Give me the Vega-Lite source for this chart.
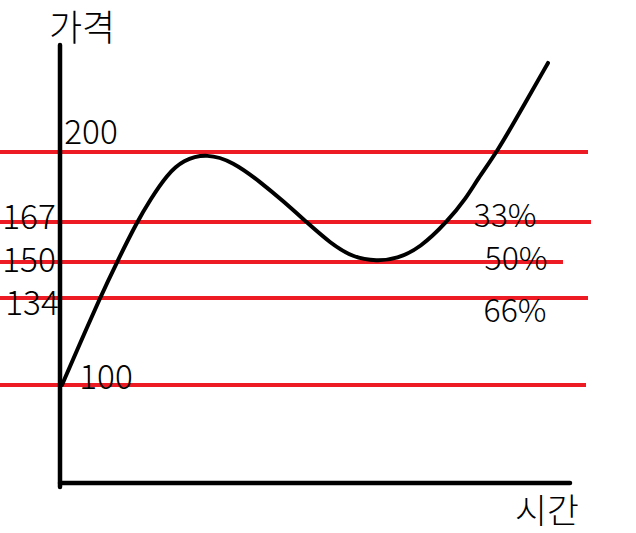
{
  "$schema": "https://vega.github.io/schema/vega-lite/v6.json",
  "autosize": {"type": "none"},
  "width": 636,
  "height": 533,
  "padding": 0,
  "background": "white",
  "config": {"view": {"stroke": null}},
  "datasets": {
    "levels": [
      {"level": 200, "start": -6, "end": 52.8},
      {"level": 169.8, "start": -6, "end": 53.1},
      {"level": 152.6, "start": -6, "end": 50.3},
      {"level": 137.1, "start": -6, "end": 52.8},
      {"level": 99.6, "start": -6, "end": 52.6}
    ],
    "axes": [
      {"t": 0, "t2": 0, "v": 55.6, "v2": 246.1},
      {"t": 0, "t2": 51, "v": 57.3, "v2": 57.3}
    ],
    "price": [
      {"t": 0.2, "v": 99.6},
      {"t": 2, "v": 117.5},
      {"t": 4, "v": 137.1},
      {"t": 5.7, "v": 152.6},
      {"t": 7.7, "v": 169.8},
      {"t": 9, "v": 179.3},
      {"t": 10.7, "v": 190.2},
      {"t": 12.3, "v": 196.6},
      {"t": 14.7, "v": 199.4},
      {"t": 17.3, "v": 195.8},
      {"t": 20, "v": 187.2},
      {"t": 22.3, "v": 178.9},
      {"t": 24.7, "v": 169.6},
      {"t": 27, "v": 160.8},
      {"t": 29.3, "v": 154.5},
      {"t": 31.7, "v": 152.9},
      {"t": 33.7, "v": 154.0},
      {"t": 36, "v": 158.6},
      {"t": 38.7, "v": 169.8},
      {"t": 40.7, "v": 180.6},
      {"t": 41.7, "v": 187.9},
      {"t": 43.7, "v": 200},
      {"t": 46, "v": 217.2},
      {"t": 48.8, "v": 238.4}
    ],
    "labels": [
      {"text": "가격", "t": 2.2, "v": 252.5, "size": "title"},
      {"text": "시간", "t": 48.7, "v": 44.4, "size": "xtitle"},
      {"text": "200", "t": 3.1, "v": 207.8, "size": "small"},
      {"text": "167", "t": -3.1, "v": 171.0, "size": "small"},
      {"text": "150", "t": -3.1, "v": 152.4, "size": "small"},
      {"text": "134", "t": -2.8, "v": 134.2, "size": "small"},
      {"text": "100", "t": 4.6, "v": 102.2, "size": "small"},
      {"text": "33%", "t": 44.5, "v": 172.0, "size": "pct"},
      {"text": "50%", "t": 45.6, "v": 153.6, "size": "pct"},
      {"text": "66%", "t": 45.5, "v": 131, "size": "pct"}
    ]
  },
  "layer": [
    {
      "data": {"name": "levels"},
      "mark": {"type": "rule", "color": "#ed1c24", "strokeWidth": 4},
      "encoding": {
        "x": {"field": "start", "type": "quantitative", "scale": {"domain": [-6, 57.6], "nice": false, "zero": false}, "axis": null},
        "x2": {"field": "end"},
        "y": {"field": "level", "type": "quantitative", "scale": {"domain": [35.78, 265.52], "nice": false, "zero": false}, "axis": null}
      }
    },
    {
      "data": {"name": "axes"},
      "mark": {"type": "rule", "color": "black", "strokeWidth": 4.5, "strokeCap": "round"},
      "encoding": {
        "x": {"field": "t", "type": "quantitative", "scale": {"domain": [-6, 57.6], "nice": false, "zero": false}, "axis": null},
        "x2": {"field": "t2"},
        "y": {"field": "v", "type": "quantitative", "scale": {"domain": [35.78, 265.52], "nice": false, "zero": false}, "axis": null},
        "y2": {"field": "v2"}
      }
    },
    {
      "data": {"name": "price"},
      "mark": {"type": "line", "color": "black", "strokeWidth": 4, "interpolate": "basis", "strokeCap": "round"},
      "encoding": {
        "x": {"field": "t", "type": "quantitative", "scale": {"domain": [-6, 57.6], "nice": false, "zero": false}, "axis": null},
        "y": {"field": "v", "type": "quantitative", "scale": {"domain": [35.78, 265.52], "nice": false, "zero": false}, "axis": null}
      }
    },
    {
      "data": {"name": "labels"},
      "mark": {"type": "text", "align": "center", "baseline": "middle", "font": "Noto Sans CJK KR", "fontWeight": 300, "color": "black"},
      "encoding": {
        "x": {"field": "t", "type": "quantitative", "scale": {"domain": [-6, 57.6], "nice": false, "zero": false}, "axis": null},
        "y": {"field": "v", "type": "quantitative", "scale": {"domain": [35.78, 265.52], "nice": false, "zero": false}, "axis": null},
        "text": {"field": "text"},
        "size": {"field": "size", "type": "nominal", "scale": {"domain": ["title", "xtitle", "small", "pct"], "range": [36, 32, 23, 34]}, "legend": null}
      }
    }
  ]
}
